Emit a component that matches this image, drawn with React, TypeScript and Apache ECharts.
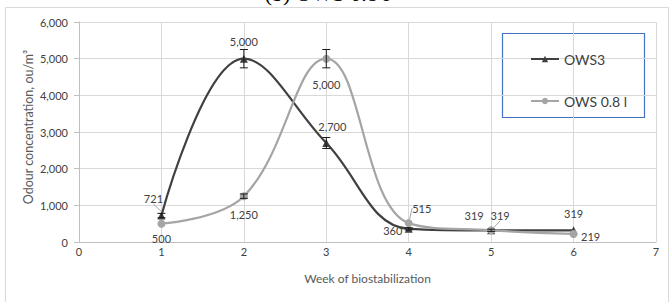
import React, { useEffect, useRef } from "react";
import * as echarts from "echarts";

const weeks = [1, 2, 3, 4, 5, 6];
const ows3 = [721, 5000, 2700, 360, 319, 319];
const ows08 = [500, 1250, 5000, 515, 319, 219];
const ows3Err = [60, 250, 150, 30, 30, 0];
const ows08Err = [0, 60, 250, 0, 0, 0];
const seriesNames = ["OWS3", "OWS 0.8 l"];
const xTitle = "Week of biostabilization";
const yTitle = "Odour concentration, ou/m³";
const chartTitle = "(b) OWS 0.8 l";

// label layout (pixel offsets from marker centre)
const ows3LabelOff = [[-8, -17], [0, -17], [6, -17], [-16, 2], [-17, -15], [0, -17]];
const ows08LabelOff = [[0, 15], [0, 18], [0, 26], [13, -15], [9, -15], [17, 3]];
const ows3Leader = [true, false, false, false, false, false];
const ows08Leader = [false, false, false, true, true, false];

const FONT = "Lato, 'Open Sans', sans-serif";

function errData(vals: number[], errs: number[]) {
  return weeks
    .map((w, i) => [w, vals[i] - errs[i], vals[i] + errs[i]])
    .filter((_, i) => errs[i] > 0);
}

export default function App() {
  const ref = useRef<HTMLDivElement>(null);
  useEffect(() => {
    if (!ref.current) return;
    const chart = echarts.init(ref.current, null, { renderer: "svg" });
    const fmt = (v: number) => v.toLocaleString("en-US");
    const errSeries = (name: string, data: number[][]) => ({
      type: "custom",
      name,
      data,
      encode: { x: 0, y: [1, 2] },
      z: 5,
      silent: true,
      renderItem: (params: any, api: any) => {
        const x = api.value(0);
        const p1 = api.coord([x, api.value(1)]);
        const p2 = api.coord([x, api.value(2)]);
        const cw = 4;
        const st = { stroke: "#1a1a1a", lineWidth: 1 };
        return {
          type: "group",
          children: [
            { type: "line", shape: { x1: p1[0], y1: p1[1], x2: p2[0], y2: p2[1] }, style: st },
            { type: "line", shape: { x1: p1[0] - cw, y1: p1[1], x2: p1[0] + cw, y2: p1[1] }, style: st },
            { type: "line", shape: { x1: p2[0] - cw, y1: p2[1], x2: p2[0] + cw, y2: p2[1] }, style: st },
          ],
        };
      },
    });
    const lineSeries = (
      name: string,
      vals: number[],
      color: string,
      symbol: string,
      offs: number[][],
      leaders: boolean[]
    ) => ({
      type: "line",
      name,
      smooth: 0.4,
      symbol,
      symbolSize: 8,
      z: 3,
      data: weeks.map((w, i) => ({
        value: [w, vals[i]],
        labelLine: { show: leaders[i], lineStyle: { color: "#A6A6A6", width: 1 } },
      })),
      itemStyle: { color },
      lineStyle: { color, width: 2.2 },
      label: {
        show: true,
        position: "inside",
        formatter: (p: any) => fmt(p.value[1]),
        color: "#404040",
        fontSize: 11,
        fontFamily: FONT,
      },
      labelLayout: (p: any) => ({ dx: offs[p.dataIndex][0], dy: offs[p.dataIndex][1] }),
    });
    chart.setOption({
      animation: false,
      grid: { left: 79, right: 14, top: 22, bottom: 60 },
      legend: {
        orient: "vertical",
        left: 525,
        top: 47,
        itemGap: 28,
        itemWidth: 28,
        itemHeight: 8,
        data: seriesNames,
        textStyle: { fontSize: 14, color: "#404040", fontFamily: FONT },
      },
      xAxis: {
        type: "value",
        min: 0,
        max: 7,
        interval: 1,
        name: xTitle,
        nameLocation: "middle",
        nameGap: 30,
        nameTextStyle: { fontSize: 12, color: "#595959", fontFamily: FONT },
        axisLine: { show: true, lineStyle: { color: "#BFBFBF" } },
        axisTick: { show: false },
        axisLabel: { margin: 4, fontSize: 11, color: "#404040", fontFamily: FONT },
        splitLine: { show: true, lineStyle: { color: "#D9D9D9" } },
      },
      yAxis: {
        type: "value",
        min: 0,
        max: 6000,
        interval: 1000,
        axisLine: { show: true, lineStyle: { color: "#BFBFBF" } },
        axisTick: { show: true, length: 5, lineStyle: { color: "#BFBFBF" } },
        axisLabel: {
          margin: 11,
          fontSize: 11,
          color: "#404040",
          fontFamily: FONT,
          formatter: (v: number) => fmt(v),
        },
        splitLine: { show: true, lineStyle: { color: "#D9D9D9" } },
      },
      graphic: [
        {
          type: "rect",
          shape: { x: 5.5, y: 7.5, width: 663, height: 310 },
          style: { fill: "none", stroke: "#D9D9D9", lineWidth: 1 },
          silent: true,
          z: -10,
        },
        {
          type: "rect",
          shape: { x: 502.5, y: 33.5, width: 142, height: 84 },
          style: { fill: "#fff", stroke: "#4472C4", lineWidth: 1.2 },
          silent: true,
          z: -1,
        },
        {
          type: "text",
          x: 327,
          y: 4,
          style: {
            text: chartTitle,
            fontSize: 22,
            fontFamily: "'Liberation Serif', serif",
            fill: "#000",
            textAlign: "center",
            textVerticalAlign: "bottom",
          },
          silent: true,
        },
        {
          type: "text",
          x: 28,
          y: 127,
          rotation: Math.PI / 2,
          style: {
            text: yTitle,
            fontSize: 12.5,
            fontFamily: FONT,
            fill: "#595959",
            textAlign: "center",
            textVerticalAlign: "middle",
          },
          silent: true,
        },
      ],
      series: [
        lineSeries(seriesNames[0], ows3, "#404040", "triangle", ows3LabelOff, ows3Leader),
        lineSeries(seriesNames[1], ows08, "#A5A5A5", "circle", ows08LabelOff, ows08Leader),
        errSeries("err3", errData(ows3, ows3Err)),
        errSeries("err08", errData(ows08, ows08Err)),
      ],
    });
    return () => chart.dispose();
  }, []);
  return (
    <div
      ref={ref}
      style={{ position: "fixed", left: 0, top: 0, width: 670, height: 302, background: "#fff" }}
    />
  );
}
